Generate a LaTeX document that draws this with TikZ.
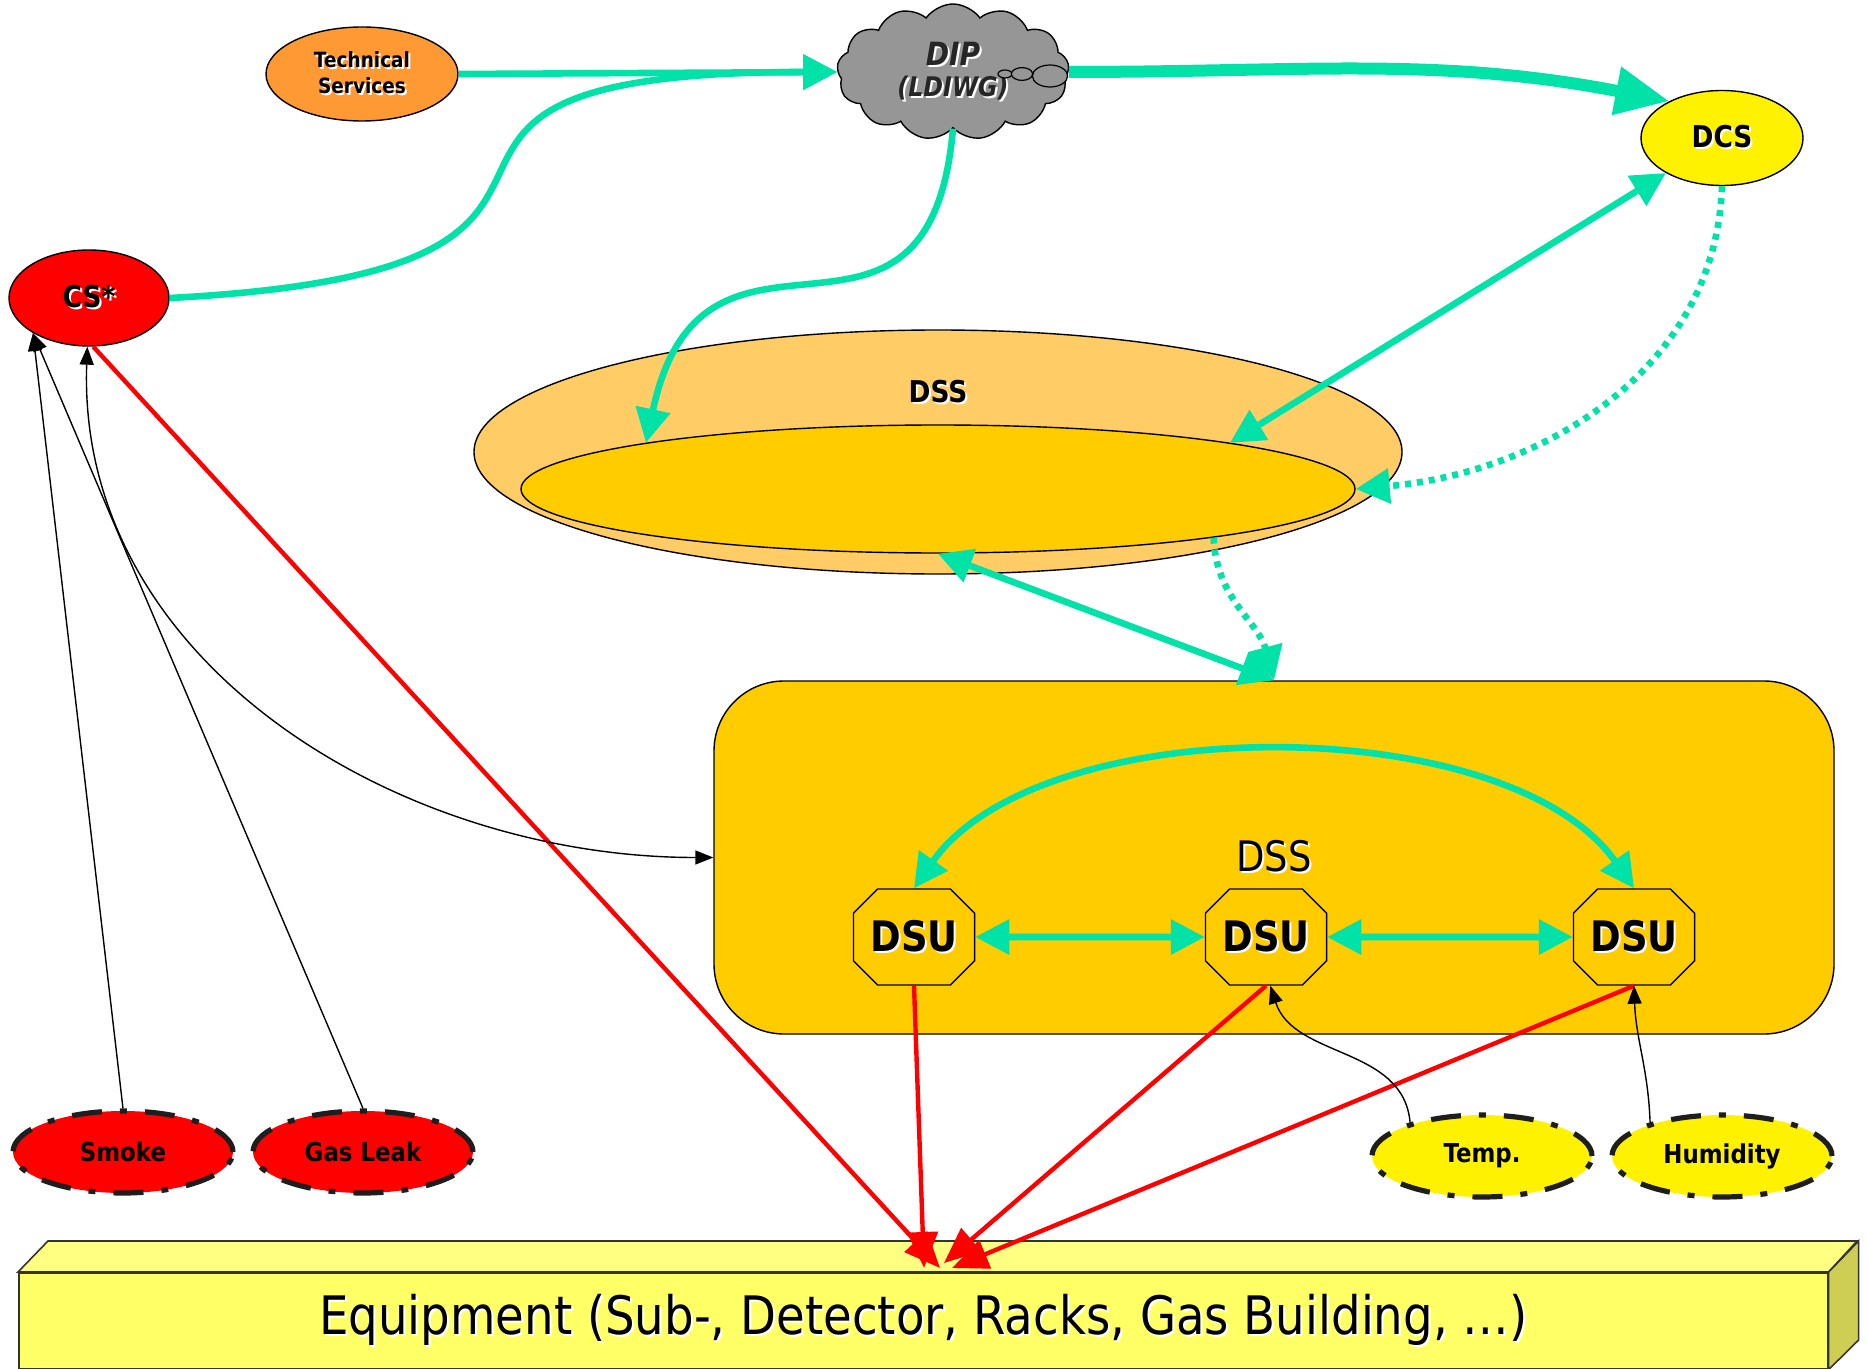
\documentclass[tikz,border=0pt]{standalone}
\usepackage{fontspec}
\setmainfont{DejaVu Sans}[FakeStretch=0.88]
\usetikzlibrary{arrows.meta,positioning,shapes.geometric,shapes.misc,shapes.symbols}

\definecolor{linkgreen}{RGB}{0,226,168}
\definecolor{dssgold}{RGB}{255,204,0}
\definecolor{dsslight}{RGB}{255,204,102}
\definecolor{techorange}{RGB}{255,153,51}
\definecolor{cloudgrey}{RGB}{150,150,150}
\definecolor{eqfront}{RGB}{255,255,102}
\definecolor{eqtop}{RGB}{255,255,130}
\definecolor{eqside}{RGB}{206,206,85}
\definecolor{dashgrey}{RGB}{30,30,30}

% text with a white drop shadow
\newcommand{\shadtxt}[1]{\makebox[0pt][l]{\hspace{1pt}\raisebox{-1pt}{\textcolor{white}{#1}}}#1}

\tikzset{
  bubble/.style={ellipse, draw, line width=0.7pt, inner sep=0pt},
  sensorbox/.style={ellipse, draw=dashgrey, line width=2.6pt,
    dash pattern=on 15pt off 9pt on 3.5pt off 9pt,
    minimum width=110pt, minimum height=41pt, inner sep=0pt,
    font=\bfseries\fontsize{13}{15}\selectfont},
  dsubox/.style={chamfered rectangle, chamfered rectangle xsep=15pt,
    draw, line width=0.7pt, fill=dssgold, minimum width=56pt, minimum height=48pt,
    inner sep=0pt, font=\bfseries\fontsize{21}{24}\selectfont},
  link/.style={draw=linkgreen, line width=3.3pt, -{Triangle[length=17pt,width=17pt]}},
  twolink/.style={link, {Triangle[length=17pt,width=17pt]}-{Triangle[length=17pt,width=17pt]}},
  dotlink/.style={link, dash pattern=on 3pt off 3pt},
  biglink/.style={draw=linkgreen, line width=6pt, -{Triangle[length=27pt,width=23pt]}},
  alarm/.style={draw=red, line width=2.2pt, -{Triangle[length=18pt,width=15pt]}},
  wire/.style={draw=black, line width=0.7pt, -{Triangle[length=9pt,width=7pt]}},
}

\begin{document}
\begin{tikzpicture}[x=0.5pt,y=-0.5pt]
\useasboundingbox (0,0) rectangle (1867,1369);

% DSS layer
\node (dssouter) at (938,452) [ellipse, draw, line width=0.7pt, fill=dsslight, minimum width=464pt, minimum height=122pt]{};
\node (dssinner) at (938,489) [ellipse, draw, line width=0.7pt, fill=dssgold, minimum width=417pt, minimum height=64pt]{};
\node (dsslabel) at (938,393) [font=\bfseries\fontsize{15}{18}\selectfont]{\shadtxt{DSS}};

\node (dssbox) at (1274,857.5) [rectangle, rounded corners=35pt, draw, line width=0.7pt, fill=dssgold, minimum width=560pt, minimum height=176.5pt]{};
\node (boxlabel) at (1274,857) [font=\fontsize{21}{25}\selectfont]{\shadtxt{DSS}};

\node (dsu1) at (914,937) [dsubox]{\shadtxt{DSU}};
\node (dsu2) at (1266,937) [dsubox]{\shadtxt{DSU}};
\node (dsu3) at (1634,937) [dsubox]{\shadtxt{DSU}};

% top row
\node (tech) at (362,74) [bubble, fill=techorange, minimum width=96pt, minimum height=47pt, align=center, font=\bfseries\fontsize{10.5}{13}\selectfont]{\shadtxt{Technical}\\\shadtxt{Services}};

\node (dip) at (953,72) [cloud, draw, line width=0.7pt, fill=cloudgrey, cloud puffs=13, cloud puff arc=110, aspect=1.8, minimum width=116pt, minimum height=68pt, inner sep=0pt, align=center, text=black!85, font=\bfseries\itshape\fontsize{16}{15.5}\selectfont]
  {\shadtxt{DIP}\\\fontsize{13.5}{15.5}\selectfont\shadtxt{(LDIWG)}};
\draw[line width=0.6pt, fill=cloudgrey] (1005,74) ellipse [x radius=3.5pt, y radius=2pt];
\draw[line width=0.6pt, fill=cloudgrey] (1022,74) ellipse [x radius=5.3pt, y radius=3.2pt];
\draw[line width=0.6pt, fill=cloudgrey] (1050,76) ellipse [x radius=8.8pt, y radius=5.5pt];

\node (dcs) at (1722,138) [bubble, fill=yellow, minimum width=81pt, minimum height=47.5pt, font=\bfseries\fontsize{15}{18}\selectfont]{\shadtxt{DCS}};
\node (cs) at (89,298) [bubble, fill=red, minimum width=80pt, minimum height=48pt, font=\bfseries\fontsize{15}{18}\selectfont]{\shadtxt{CS*}};

% sensors
\node (smoke) at (123,1152) [sensorbox, fill=red]{Smoke};
\node (gas) at (363,1152) [sensorbox, fill=red]{Gas Leak};
\node (temp) at (1482,1156) [sensorbox, fill=yellow]{Temp.};
\node (humid) at (1722,1156) [sensorbox, fill=yellow]{Humidity};

% equipment block
\node (equip) at (18,1272) [anchor=north west, rectangle, draw=black!80, line width=0.8pt, fill=eqfront, minimum width=904.5pt, minimum height=48pt, inner sep=0pt, font=\fontsize{26.5}{30}\selectfont]{\raisebox{-2.5pt}{\shadtxt{Equipment (Sub-, Detector, Racks, Gas Building, …)}}};
\draw[draw=black!80, line width=0.8pt, fill=eqtop] (equip.north west) -- ++(30,-31) -- ++(1809,0) -- (equip.north east) -- cycle;
\draw[draw=black!80, line width=0.8pt, fill=eqside] (equip.north east) -- ++(30,-31) -- ++(0,99) -- (equip.south east) -- cycle;
\coordinate (eqhit) at (940,1268);

% green links
\draw[link]	(tech.east)	--	(dip.west);
\draw[link]	(cs.east)	to[out=3,in=180,looseness=2]	(dip.west);
\draw[biglink]	(dip.east)	to[out=0,in=169]	(dcs.145);
\draw[link]	(dip.south)	to[out=-95,in=78,looseness=1.6]	(dssinner.171);
\draw[twolink]	(dcs.212)	--	(dssinner.9);
\draw[dotlink]	(dcs.south)	to[out=-92,in=5]	(dssinner.east);
\draw[twolink]	(dssinner.south)	--	(dssbox.north);
\draw[dotlink]	(dssinner.-10)	to[out=-88,in=105]	(dssbox.north);

\draw[twolink]	(dsu1.north)	to[out=55,in=125,looseness=0.78]	(dsu3.north);
\draw[twolink]	(dsu1)	--	(dsu2);
\draw[twolink]	(dsu2)	--	(dsu3);

% red links
\draw[alarm]	(cs.-85)	--	(eqhit);
\draw[alarm]	(dsu1.south)	--	([xshift=-8pt]eqhit);
\draw[alarm]	(dsu2.south)	--	([shift={(4,-5)}]eqhit);
\draw[alarm]	(dsu3.south)	--	([xshift=6pt]eqhit);

% black links
\draw[wire]	(smoke.north)	--	(cs.212);
\draw[wire]	(gas.north)	--	(cs.212);
\draw[wire, {Triangle[length=9pt,width=7pt]}-{Triangle[length=9pt,width=7pt]}]	(cs.-92)	to[out=-92,in=180]	(dssbox.west);
\draw[wire]	(temp.155)	to[out=95,in=-72]	(dsu2.-85);
\draw[wire]	(humid.155)	to[out=92,in=-88]	(dsu3.south);

\end{tikzpicture}
\end{document}
